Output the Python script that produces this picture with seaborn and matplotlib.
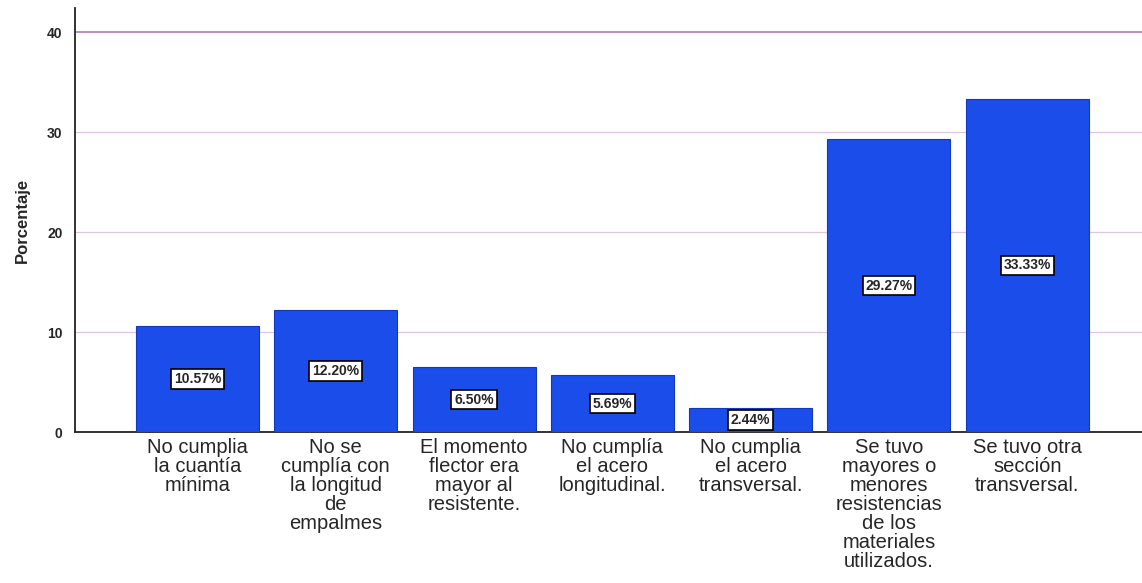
import matplotlib
matplotlib.use("Agg")
import matplotlib.pyplot as plt
import seaborn as sns
import pandas as pd

categories = [
    "No cumplia\nla cuantía\nmínima",
    "No se\ncumplía con\nla longitud\nde\nempalmes",
    "El momento\nflector era\nmayor al\nresistente.",
    "No cumplía\nel acero\nlongitudinal.",
    "No cumplia\nel acero\ntransversal.",
    "Se tuvo\nmayores o\nmenores\nresistencias\nde los\nmateriales\nutilizados.",
    "Se tuvo otra\nsección\ntransversal.",
]
percentages = [10.57, 12.20, 6.50, 5.69, 2.44, 29.27, 33.33]
y_ticks = [0, 10, 20, 30, 40]

df = pd.DataFrame({"categoria": categories, "porcentaje": percentages})

sns.set_style("white")
plt.rcParams["font.family"] = ["Liberation Sans", "DejaVu Sans"]

fig = plt.figure(figsize=(11.42, 5.83), dpi=100)
ax = fig.add_axes([75 / 1142, (583 - 432) / 583, (1142 - 75) / 1142, 424 / 583])

sns.barplot(data=df, x="categoria", y="porcentaje", color="#1b4deb",
            saturation=1, width=0.89, edgecolor="#1238c0", linewidth=0.8,
            ax=ax, zorder=3)

ax.set_xlim(-0.886, 6.83)
ax.set_ylim(0, 42.4)
ax.set_yticks(y_ticks)
ax.set_yticklabels([str(t) for t in y_ticks], fontsize=10, fontweight="bold")

for t in [10, 20, 30]:
    ax.axhline(t, color="#e0c4e0", linewidth=0.9, zorder=1)
ax.axhline(40, color="#b478b4", linewidth=1.2, zorder=1)

for i, v in enumerate(percentages):
    ax.text(i, v / 2, f"{v:.2f}%", ha="center", va="center", fontsize=10,
            fontweight="bold", zorder=5,
            bbox=dict(boxstyle="square,pad=0.2", facecolor="white",
                      edgecolor="black", linewidth=1.2))

ax.set_xlabel("")
ax.set_ylabel("Porcentaje", fontsize=12, fontweight="bold", labelpad=12)
ax.tick_params(axis="x", length=0, pad=4, labelsize=14.5)
ax.tick_params(axis="y", length=0, pad=9)
for lbl in ax.get_xticklabels():
    lbl.set_linespacing(1.0)

for side in ["top", "right"]:
    ax.spines[side].set_visible(False)
ax.spines["left"].set_color("#222222")
ax.spines["bottom"].set_color("#222222")
ax.spines["left"].set_linewidth(1.3)
ax.spines["bottom"].set_linewidth(1.3)

fig.savefig("out.png", dpi=100)
